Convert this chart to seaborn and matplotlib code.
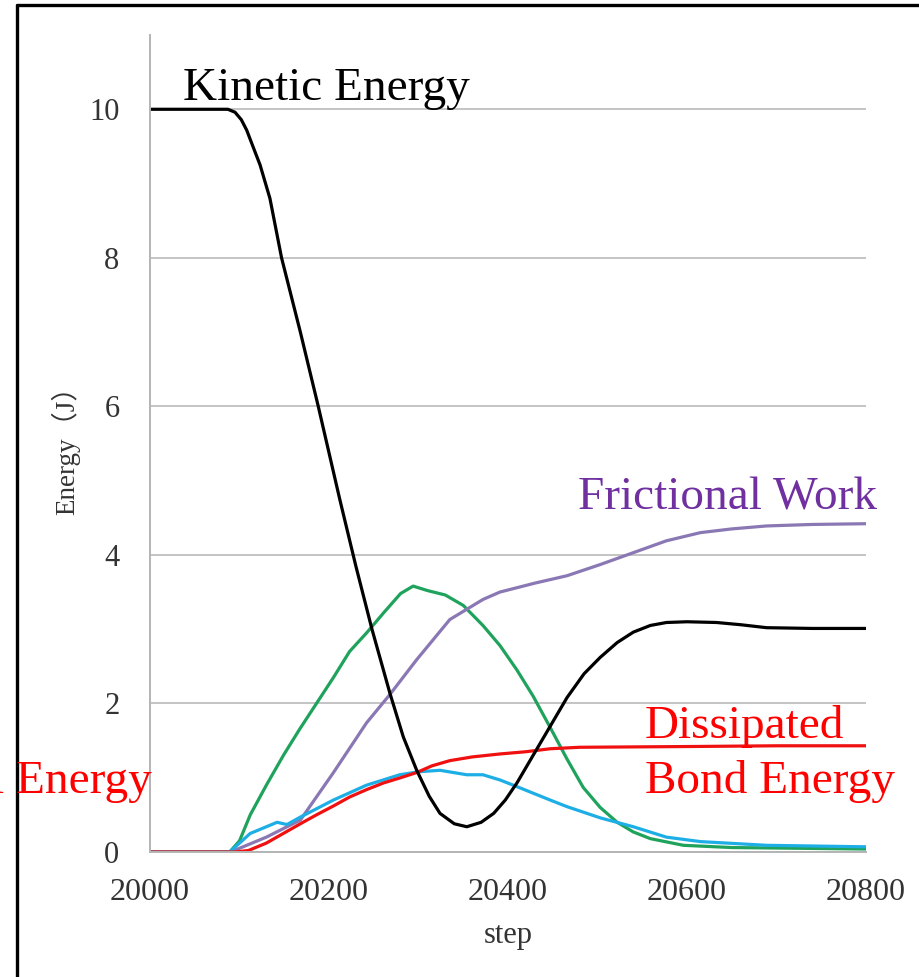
# Energy balance during the impact steps (kinetic, frictional, bond energies)

import pandas as pd
import matplotlib.pyplot as plt
from matplotlib.lines import Line2D
import seaborn as sns

kinetic_step = [20000, 20087, 20095, 20102, 20108, 20115, 20123, 20134, 20147, 20168,
                20188, 20212, 20230, 20248, 20268, 20283, 20298, 20312, 20324, 20340,
                20354, 20370, 20384, 20397, 20410, 20428, 20447, 20466, 20485, 20503,
                20522, 20540, 20559, 20577, 20600, 20633, 20660, 20689, 20740, 20800]
kinetic = [10, 10, 9.96, 9.86, 9.72, 9.5, 9.25, 8.8, 8.0, 7.0,
           6.0, 4.75, 3.85, 3.0, 2.14, 1.55, 1.1, 0.75, 0.52, 0.38,
           0.34, 0.40, 0.52, 0.70, 0.93, 1.3, 1.69, 2.08, 2.4, 2.62,
           2.82, 2.96, 3.05, 3.09, 3.1, 3.09, 3.06, 3.02, 3.01, 3.01]

green_step = [20000, 20089, 20100, 20112, 20130, 20149, 20167, 20186, 20205, 20223,
              20242, 20261, 20280, 20294, 20310, 20330, 20350, 20372, 20391, 20410,
              20428, 20447, 20466, 20484, 20503, 20522, 20540, 20559, 20596, 20650,
              20800]
green = [0, 0, 0.15, 0.5, 0.9, 1.3, 1.65, 2.0, 2.35, 2.7,
         2.95, 3.22, 3.48, 3.58, 3.52, 3.46, 3.32, 3.05, 2.78, 2.45,
         2.1, 1.68, 1.25, 0.87, 0.6, 0.4, 0.27, 0.18, 0.09, 0.06,
         0.04]

friction_step = [20000, 20090, 20130, 20168, 20205, 20242, 20268, 20298, 20335, 20372,
                 20391, 20430, 20466, 20503, 20540, 20577, 20615, 20650, 20689, 20740,
                 20800]
friction = [0, 0, 0.2, 0.43, 1.07, 1.74, 2.12, 2.59, 3.13, 3.4,
            3.5, 3.62, 3.72, 3.87, 4.03, 4.19, 4.3, 4.35, 4.39, 4.41,
            4.42]

cyan_step = [20000, 20089, 20112, 20142, 20153, 20168, 20205, 20242, 20279, 20300,
             20324, 20354, 20372, 20391, 20410, 20447, 20466, 20503, 20540, 20577,
             20615, 20689, 20800]
cyan = [0, 0, 0.25, 0.4, 0.37, 0.47, 0.7, 0.9, 1.04, 1.08,
        1.1, 1.04, 1.04, 0.97, 0.88, 0.7, 0.61, 0.46, 0.34, 0.2,
        0.14, 0.09, 0.07]

bond_step = [20000, 20095, 20110, 20130, 20149, 20168, 20186, 20205, 20223, 20242,
             20261, 20280, 20298, 20315, 20335, 20360, 20391, 20420, 20447, 20480,
             20600, 20700, 20800]
bond = [0, 0, 0.02, 0.12, 0.25, 0.38, 0.5, 0.62, 0.74, 0.84,
        0.93, 1.0, 1.07, 1.16, 1.23, 1.28, 1.32, 1.35, 1.39, 1.41,
        1.42, 1.43, 1.43]

x_ticks = [20000, 20200, 20400, 20600, 20800]
y_ticks = [0, 2, 4, 6, 8, 10]

sns.set_style("white")
plt.rcParams["font.family"] = ["Liberation Serif", "Noto Sans CJK JP", "DejaVu Sans"]

W, H = 920, 977
fig = plt.figure(figsize=(W / 100, H / 100), dpi=100)
ax = fig.add_axes([150 / W, 125 / H, 716 / W, 817 / H])

series = [
    (green_step, green, "#1fa35c"),
    (friction_step, friction, "#8a78b4"),
    (cyan_step, cyan, "#1eaee6"),
    (bond_step, bond, "#f01010"),
    (kinetic_step, kinetic, "black"),
]
for steps, vals, col in series:
    df = pd.DataFrame({"step": steps, "energy": vals})
    sns.lineplot(data=df, x="step", y="energy", color=col, lw=2.3,
                 estimator=None, legend=False, ax=ax)

ax.set_xlim(20000, 20800)
ax.set_ylim(0, 11)
ax.set_xticks(x_ticks)
ax.set_yticks(y_ticks)
ax.yaxis.grid(True, color="#c4c4c4", lw=1.4)
ax.xaxis.grid(False)
ax.set_axisbelow(True)
for s in ["top", "right"]:
    ax.spines[s].set_visible(False)
for s in ["left", "bottom"]:
    ax.spines[s].set_color("#b4b4b4")
    ax.spines[s].set_linewidth(1.4)
ax.tick_params(axis="y", length=8, width=1.4, color="#c4c4c4", direction="out",
               pad=14, labelsize=22, labelcolor="#333333")
ax.tick_params(axis="x", length=8, width=1.2, color="#c4c4c4", direction="out",
               pad=11, labelsize=23, labelcolor="#333333")
ax.set_xlabel("step", fontsize=22, color="#333333", labelpad=10)
ax.set_ylabel("Energy（J）", fontsize=19.5, color="#333333", labelpad=6)

fig.text(183 / W, 1 - 100 / H, "Kinetic Energy", fontsize=34, color="black", va="baseline")
fig.text(578 / W, 1 - 510 / H, "Frictional Work", fontsize=34, color="#7030a0", va="baseline")
fig.text(645 / W, 1 - 738 / H, "Dissipated", fontsize=34, color="#ff0000", va="baseline")
fig.text(645 / W, 1 - 793 / H, "Bond Energy", fontsize=34, color="#ff0000", va="baseline")
fig.text(152 / W, 1 - 793 / H, "l Energy", fontsize=34, color="#ff0000", va="baseline", ha="right")

# outer frame of the original figure
fig.add_artist(Line2D([17 / W, 17 / W], [0, 1 - 5 / H], color="black", lw=2.4))
fig.add_artist(Line2D([17 / W, 1], [1 - 5 / H, 1 - 5 / H], color="black", lw=2.4))

plt.savefig("out.png", dpi=100)
